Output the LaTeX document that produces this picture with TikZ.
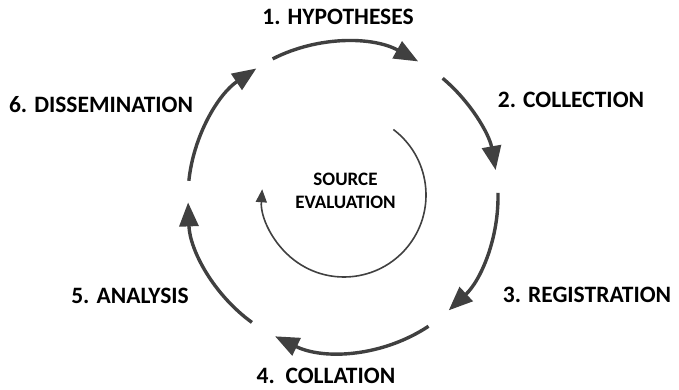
\documentclass[tikz,border=0pt]{standalone}
\usepackage{fontspec}
\setmainfont{Carlito}
\usetikzlibrary{arrows.meta}
\definecolor{arcgray}{HTML}{404040}
\tikzset{
  cyclearc/.style={draw=arcgray, line width=3.4pt,
    -{Triangle[length=24pt,width=19pt]}},
  innerarc/.style={draw=arcgray, line width=1.6pt,
    -{Triangle[length=13pt,width=11pt]}},
  steplabel/.style={font=\fontsize{23.5}{27}\selectfont\bfseries, anchor=base, inner sep=0pt},
  centerlabel/.style={font=\fontsize{19}{23}\selectfont\bfseries, align=center, inner sep=0pt}
}
\begin{document}
\begin{tikzpicture}[x=1pt,y=1pt]
\useasboundingbox (0,0) rectangle (679,390);
\coordinate (O) at (343,193);
\coordinate (I) at (344,195);
% outer cycle arcs
\draw[cyclearc] ([shift={(117:155)}]O) arc[start angle=117, end angle=61, radius=155];
\draw[cyclearc] ([shift={(50:155)}]O) arc[start angle=50, end angle=10, radius=155];
\draw[cyclearc] ([shift={(1.5:155)}]O) arc[start angle=1.5, end angle=-47, radius=155];
\draw[cyclearc] ([shift={(-56.5:155)}]O) arc[start angle=-56.5, end angle=-116, radius=155];
\draw[cyclearc] ([shift={(-126:155)}]O) arc[start angle=-126, end angle=-178, radius=155];
\draw[cyclearc] ([shift={(174:155)}]O) arc[start angle=174, end angle=124, radius=155];
% inner arc
\draw[innerarc] ([shift={(53:82)}]I) arc[start angle=53, end angle=-184, radius=82];
% labels
\node[steplabel] (l1) at (338,365) {1. HYPOTHESES};
\node[steplabel] (l2) at (571,282) {2. COLLECTION};
\node[steplabel] (l3) at (587,87) {3. REGISTRATION};
\node[steplabel] (l4) at (326,6) {4.\ \ COLLATION};
\node[steplabel] (l5) at (130,86) {5. ANALYSIS};
\node[steplabel] (l6) at (101,277) {6. DISSEMINATION};
\node[centerlabel] (se) at (345.5,199) {SOURCE\\EVALUATION};
\end{tikzpicture}
\end{document}
